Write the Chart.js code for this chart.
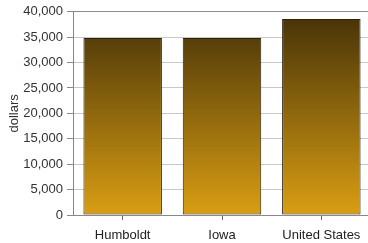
<!DOCTYPE html>
<html>
<head>
<meta charset="utf-8">
<script src="https://cdn.jsdelivr.net/npm/chart.js@4"></script>
<style>
  html, body { margin: 0; padding: 0; background: #fff; overflow: hidden; }
  #wrap { width: 368px; height: 243px; overflow: hidden; }
</style>
</head>
<body>
<div id="wrap"><canvas id="incomeChart" width="371" height="243"></canvas></div>
<script>
const places = ['Humboldt', 'Iowa', 'United States'];
const incomes = [34830, 34820, 38560];
const yTicks = [0, 5000, 10000, 15000, 20000, 25000, 30000, 35000, 40000];

// vertical gradient for each bar, dark brown at top to gold at bottom
function barGradient(context) {
    const chart = context.chart;
    const area = chart.chartArea;
    if (!area) return '#9a6e10';
    const el = context.element;
    const top = el && el.y != null ? el.y : area.top;
    const bottom = area.bottom;
    const g = chart.ctx.createLinearGradient(0, top, 0, bottom);
    g.addColorStop(0, '#443108');
    g.addColorStop(1, '#d99e13');
    return g;
}

const ctx = document.getElementById('incomeChart').getContext('2d');
new Chart(ctx, {
    type: 'bar',
    data: {
        labels: places,
        datasets: [{
            label: 'dollars',
            data: incomes,
            backgroundColor: barGradient,
            borderColor: '#2b2210',
            borderWidth: 1,
            borderSkipped: false,
            categoryPercentage: 0.79,
            barPercentage: 1.0
        }]
    },
    options: {
        responsive: false,
        animation: false,
        layout: { padding: { top: 11, right: 0, left: 0, bottom: 0 } },
        plugins: {
            legend: { display: false },
            tooltip: { enabled: false }
        },
        scales: {
            x: {
                afterFit: s => { s.height = 28; },
                grid: {
                    offset: false,
                    drawOnChartArea: false,
                    tickLength: 5,
                    color: '#666'
                },
                border: { color: '#888' },
                ticks: { color: '#222', font: { family: 'Liberation Sans', size: 13 }, padding: 8 }
            },
            y: {
                min: 0,
                max: 40000,
                afterFit: s => { s.width = 73; },
                afterBuildTicks: s => { s.ticks = yTicks.map(v => ({ value: v })); },
                grid: {
                    color: c => c.tick && c.tick.value === 40000 ? '#8c8c8c' : '#c8c8c8',
                    tickColor: '#888',
                    tickLength: 6
                },
                border: { color: '#888' },
                title: {
                    display: true,
                    text: 'dollars',
                    color: '#333',
                    font: { family: 'Liberation Sans', size: 13 },
                    padding: { top: 7, bottom: 0 }
                },
                ticks: {
                    color: '#333',
                    font: { family: 'Liberation Sans', size: 13 },
                    padding: 4,
                    callback: v => v.toLocaleString('en-US')
                }
            }
        }
    }
});
</script>
</body>
</html>
